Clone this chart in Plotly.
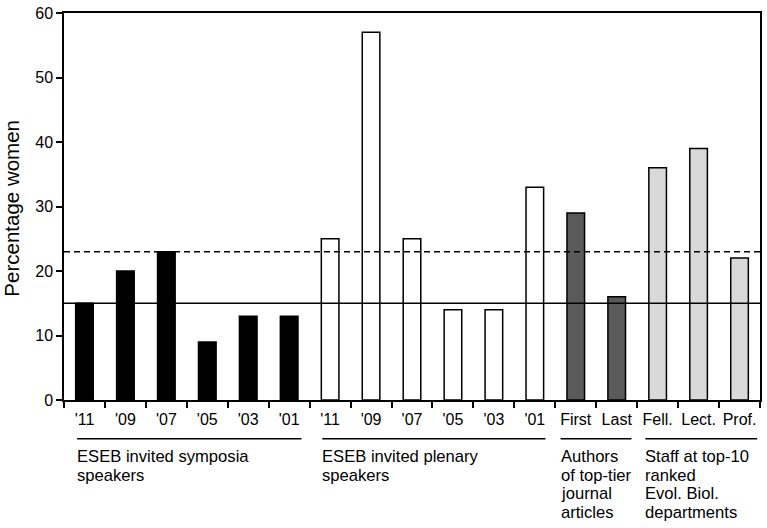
import plotly.graph_objects as go

# ---- data ----
tick_labels = ["'11", "'09", "'07", "'05", "'03", "'01",
               "'11", "'09", "'07", "'05", "'03", "'01",
               "First", "Last", "Fell.", "Lect.", "Prof."]
symposia_vals = [15, 20, 23, 9, 13, 13]
plenary_vals = [25, 57, 25, 14, 14, 33]
authors_vals = [29, 16]
staff_vals = [36, 39, 22]
baseline_solid = 15
baseline_dashed = 23
group_texts = [
    ["ESEB invited symposia", "speakers"],
    ["ESEB invited plenary", "speakers"],
    ["Authors", "of top-tier", "journal", "articles"],
    ["Staff at top-10", "ranked", "Evol. Biol.", "departments"],
]

# ---- layout constants (pixels) ----
W, H = 767, 528
L, R, T, B = 64, 5, 10, 128
plot_h = H - T - B
FONT = "Liberation Sans, Arial, sans-serif"

def py2paper(py):
    return (H - B - py) / plot_h

fig = go.Figure()
groups = [
    (symposia_vals, "#000000", 0),
    (plenary_vals, "#ffffff", 6),
    (authors_vals, "#5a5a5a", 12),
    (staff_vals, "#d9d9d9", 14),
]
for vals, color, start in groups:
    fig.add_trace(go.Bar(
        x=list(range(start, start + len(vals))), y=vals,
        marker=dict(color=color, line=dict(color="#000000", width=1.5)),
        width=0.43, showlegend=False))

# reference lines
fig.add_shape(type="line", xref="paper", yref="y", x0=0, x1=1,
              y0=baseline_solid, y1=baseline_solid,
              line=dict(color="#000000", width=1.5))
fig.add_shape(type="line", xref="paper", yref="y", x0=0, x1=1,
              y0=baseline_dashed, y1=baseline_dashed,
              line=dict(color="#000000", width=1.5, dash="6px,4px"))

# group underlines and labels (x in data units)
group_spans = [(-0.18, 5.30), (5.81, 11.26), (11.63, 13.36), (13.70, 16.43)]
line_y = py2paper(439)
for (x0, x1), lines in zip(group_spans, group_texts):
    fig.add_shape(type="line", xref="x", yref="paper", x0=x0, x1=x1,
                  y0=line_y, y1=line_y, line=dict(color="#000000", width=1.5))
    for i, t in enumerate(lines):
        fig.add_annotation(x=x0, y=py2paper(457 + 18.7 * i), xref="x", yref="paper",
                           text=t, showarrow=False, xanchor="left", yanchor="middle",
                           xshift=-2,
                           font=dict(family=FONT, size=16.6, color="#000000"))

# y title
fig.add_annotation(x=(11 - L) / (W - L - R), y=py2paper(207), xref="paper", yref="paper",
                   text="Percentage women", textangle=-90, showarrow=False,
                   xanchor="center", yanchor="middle",
                   font=dict(family=FONT, size=20.5, color="#000000"))

fig.update_layout(
    width=W, height=H,
    margin=dict(l=L, r=R, t=T, b=B, pad=0),
    plot_bgcolor="#ffffff", paper_bgcolor="#ffffff",
    font=dict(family=FONT, size=16, color="#000000"),
)
fig.update_xaxes(
    range=[-0.5, 16.5], tickvals=list(range(17)), ticktext=tick_labels,
    ticks="", showgrid=False, zeroline=False, ticklabelstandoff=4,
    showline=True, linecolor="#000000", linewidth=1.5, mirror=True,
    minor=dict(tickvals=[i - 0.5 for i in range(18)], ticks="outside",
               ticklen=6, tickcolor="#000000", tickwidth=1.5, showgrid=False),
    tickfont=dict(family=FONT, size=16, color="#000000"),
)
fig.update_yaxes(
    range=[0, 60], tickvals=[0, 10, 20, 30, 40, 50, 60],
    ticks="outside", ticklen=6, tickcolor="#000000", tickwidth=1.5,
    showgrid=False, zeroline=False,
    showline=True, linecolor="#000000", linewidth=1.5, mirror=True,
    tickfont=dict(family=FONT, size=16, color="#000000"),
)

fig.write_html("out.html", config={"displayModeBar": False},
               post_script="document.body.style.margin='0';")
